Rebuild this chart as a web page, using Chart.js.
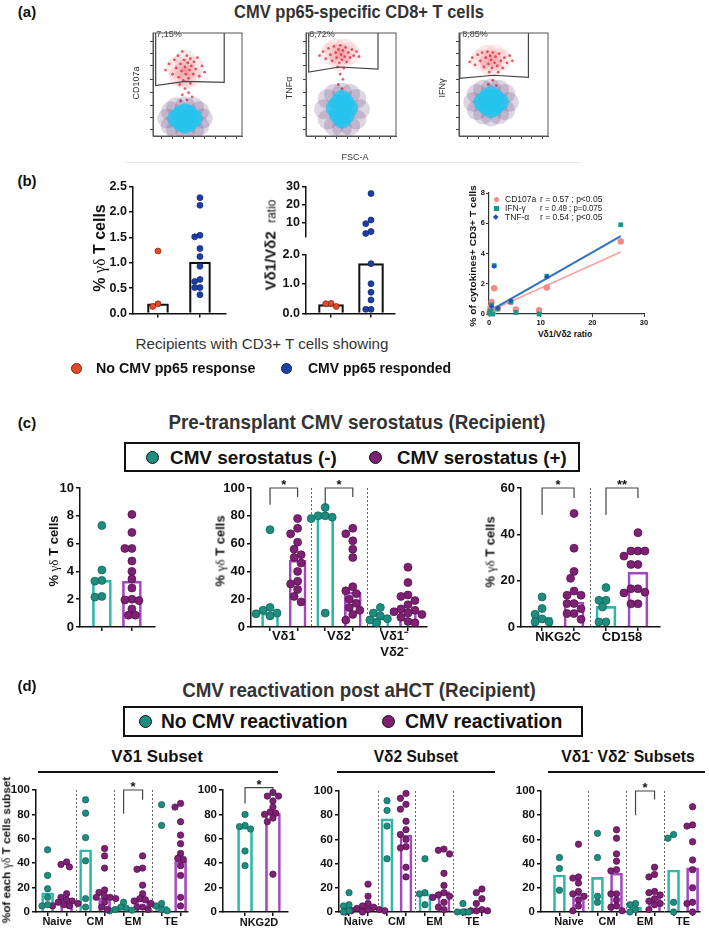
<!DOCTYPE html>
<html>
<head>
<meta charset="utf-8">
<script src="https://cdn.jsdelivr.net/npm/chart.js@4.4.0/dist/chart.umd.min.js"></script>
<style>
  body { margin: 0; background: #fff; width: 709px; height: 928px; position: relative; overflow: hidden;
         font-family: "Liberation Sans", Arial, sans-serif; color: #111; }
  canvas { position: absolute; }
  .t { position: absolute; white-space: nowrap; line-height: 1; }
  .box { position: absolute; border: 2px solid #111; box-sizing: border-box; }
  .dot { position: absolute; border-radius: 50%; box-sizing: border-box; }
  .rule { position: absolute; background: #111; }
</style>
</head>
<body>
<script>
// ---------- (a) flow plots, plot units 0-100 ----------
const flowMarkers = ["CD107a", "TNFα", "IFNγ"];
const gatePct = ["7,15%", "8,72%", "8,85%"];
const gateCD107a = [[3,100],[3,49],[36,53],[80,52],[80,100]];
const gateTNF = [[3,100],[3,62],[37,67],[80,65],[80,100]];
const gateIFN = [[1,100],[1,56],[39,59],[78,57],[78,100]];
const redCD107a = [[14,64],[18,70],[22,60],[24,74],[26,66],[28,78],[29,57],[31,70],[32,63],[33,82],[34,54],[35,74],[36,67],[37,60],[38,78],[39,71],[40,56],[41,64],[42,75],[43,68],[45,60],[46,72],[48,65],[50,76],[52,58],[55,68],[58,62],[30,50],[42,51],[36,46],[40,42],[33,40],[44,38],[38,35],[31,34]];
const redTNF = [[15,78],[19,82],[22,75],[25,85],[27,79],[29,73],[31,87],[33,81],[34,76],[36,84],[37,71],[38,88],[39,79],[40,74],[41,83],[43,77],[44,86],[45,72],[47,81],[49,76],[51,84],[53,78],[56,82],[59,77],[35,67],[42,66],[38,60],[41,55],[36,50],[40,46]];
const redIFN = [[12,72],[15,76],[18,69],[21,79],[24,73],[26,81],[28,67],[30,76],[32,82],[33,70],[35,78],[36,74],[37,66],[38,81],[40,71],[41,77],[43,68],[45,80],[47,73],[49,66],[51,76],[54,71],[57,78],[60,73],[34,62],[44,62],[38,54],[33,50],[42,49]];
const hazeCD107a = [[36,64],[27,67],[45,67],[36,73],[36,56],[30,58],[42,58]];
const hazeTNF = [[38,79],[28,80],[48,80],[33,84],[43,84],[38,73]];
const hazeIFN = [[36,73],[25,74],[47,74],[31,78],[41,78],[36,68]];
const coreCD107a = [[36,17],[26,17],[46,17],[31,13],[41,13],[31,21],[41,21],[36,11],[36,23]];
const haloCD107a = [[16,17],[56,17],[20,10],[52,10],[20,24],[52,24],[36,29],[36,5],[26,28],[46,28],[26,6],[46,6]];
const coreTNF = [[40,26],[32,27],[48,27],[36,20],[44,20],[36,32],[44,32],[40,16],[40,36]];
const haloTNF = [[20,26],[60,26],[24,16],[56,16],[24,36],[56,36],[40,42],[40,8],[31,41],[49,41],[31,10],[49,10]];
const coreIFN = [[36,33],[26,33],[46,33],[31,29],[41,29],[31,37],[41,37],[36,26],[36,40]];
const haloIFN = [[16,33],[56,33],[20,25],[52,25],[20,41],[52,41],[36,46],[36,19],[27,45],[45,45],[27,21],[45,21]];

// ---------- (b) ----------
const bGroups = ["No CMV pp65 response", "CMV pp65 responded"];
const gdNoResp = [1.23, 0.19, 0.14];
const gdResp = [2.28, 2.13, 1.54, 1.51, 1.28, 1.12, 0.93, 0.67, 0.63, 0.51, 0.51, 0.37];
const gdMedian = [0.19, 1.01];
const ratioNoResp = [0.24, 0.34, 0.33];
const ratioResp = [26.1, 11.4, 9.4, 5.0, 4.0, 1.69, 1.01, 0.72, 0.46, 0.14, 0.14];
const ratioMedian = [0.3, 1.69];
const cd107aX = [25.5, 11.2, 9.7, 5.2, 4.2, 1.0, 1.7, 0.5, 0.3, 0.2, 0.7, 0.1, 0.4, 0.3];
const cd107aY = [4.8, 1.75, 0.25, 0.3, 0.8, 1.7, 0.35, 0.8, 0.4, 0.2, 0.1, 0.05, 0.5, 0.15];
const ifngX = [25.5, 11.2, 9.7, 5.2, 4.2, 1.0, 1.7, 0.5, 0.3, 0.2, 0.7, 0.1];
const ifngY = [5.9, 2.5, 0.0, 0.1, 0.8, 3.2, 0.35, 0.6, 0.2, 0.05, 0.0, 0.1];
const tnfX = [4.2, 1.7, 11.2, 1.0, 0.5];
const tnfY = [0.9, 0.4, 2.45, 3.15, 0.5];
const tnfFitX = [0.5, 25.5], tnfFitY = [0.27, 5.15];
const cd107aFitX = [0.5, 25.5], cd107aFitY = [0.25, 4.1];
const corrStats = [["CD107a", "r = 0.57 ; p<0.05"], ["IFN-γ", "r = 0.49 ; p=0.075"], ["TNF-α", "r = 0.54 ; p<0.05"]];

// ---------- (c) ----------
const serGroups = ["CMV serostatus (-)", "CMV serostatus (+)"];
const serNegGd = [7.3, 4.1, 3.35, 3.3, 2.2, 2.15];
const serPosGd = [8.1, 6.8, 5.65, 5.65, 4.75, 4.0, 3.45, 2.8, 2.0, 1.95, 1.9, 1.3, 0.85, 0.85];
const serGdMedian = [3.37, 3.3];
const subsets = ["Vδ1", "Vδ2", "Vδ1⁻\nVδ2⁻"];
const negSubset = [[70, 14, 12, 10, 9.5, 8], [86, 80, 80, 79, 78, 10], [14, 10, 8, 6, 5, 3]];
const posSubset = [[78, 71, 67, 61, 56, 52, 50, 46, 40, 33, 31, 27, 22, 18],
                   [71, 67, 62, 56, 50, 29, 26, 24, 20, 17, 14, 12, 9, 5],
                   [43, 32, 23, 22, 19, 16, 13, 12, 11, 10, 9, 7, 4, 3]];
const negSubsetMedian = [10, 80, 6.5];
const posSubsetMedian = [48, 25, 12.5];
const receptors = ["NKG2C", "CD158"];
const negReceptor = [[13, 8, 5.5, 3.5, 2.2, 2.2], [17, 11.5, 11.5, 8.6, 2.2, 2.2]];
const posReceptor = [[49, 34, 24, 21, 15.5, 13.7, 13.7, 10.1, 10.1, 7.9, 5.8, 5.8, 3.3],
                     [40.7, 32.8, 32.8, 32.8, 30.6, 27, 27, 16.5, 16.5, 15, 14.7, 10, 10]];
const negReceptorMedian = [4.3, 8.9];
const posReceptorMedian = [10.8, 23.7];

// ---------- (d) ----------
const reactGroups = ["No CMV reactivation", "CMV reactivation"];
const memory = ["Naive", "CM", "EM", "TE"];
const vd1NoReact = [[51, 30, 19, 12, 6, 5], [92, 81, 61, 42, 11, 4], [8, 4, 3, 2, 1.5, 1], [88, 71, 7, 5, 2, 1]];
const vd1React = [[41, 39, 37, 15, 12, 10, 9, 8, 7, 6, 5, 5], [52, 46, 36, 18, 16, 13, 12, 12, 11, 8, 4, 2],
                  [46, 36, 35, 22, 15, 11, 10, 9, 7, 4, 4, 2], [89, 86, 74, 63, 56, 48, 44, 43, 38, 30, 12, 5]];
const vd1NoMedian = [15.8, 51, 2.7, 4.9];
const vd1Median = [11, 11.7, 10, 41.7];
const nkg2dNo = [80, 71, 70, 68, 50, 38];
const nkg2dYes = [98, 95, 95, 91, 86, 82, 81, 80, 77, 74, 31];
const nkg2dMedian = [69.5, 81];
const vd2NoReact = [[16, 6, 5, 1, 0], [92, 84, 71, 44], [44, 16, 15, 6], [7, 0, 0, 0]];
const vd2React = [[23, 13, 7, 5, 4, 3, 2, 2, 1, 1, 0, 0], [98, 94, 89, 85, 75, 68, 64, 60, 54, 53, 37, 29],
                  [52, 51, 48, 32, 22, 16, 14, 13, 12, 8, 4, 2], [19, 16, 11, 7, 2, 1, 1, 1, 0, 0, 0]];
const vd2NoMedian = [3.9, 77, 14.9, 0.3];
const vd2Median = [1.7, 63.6, 16.8, 0.8];
const dnNoReact = [[45, 36, 18], [65, 45, 13, 8], [7, 6, 2, 0], [64, 61, 8, 0]];
const dnReact = [[56, 29, 28, 24, 17, 15, 13, 10, 5, 1], [68, 61, 48, 42, 35, 34, 15, 15, 10, 5, 4, 1],
                 [37, 31, 29, 17, 16, 14, 11, 9, 7, 6, 2], [87, 72, 71, 58, 43, 35, 20, 8, 7, 0]];
const dnNoMedian = [30.6, 28.6, 3.9, 34.7];
const dnMedian = [14.9, 32, 11.8, 36.6];

// ---------- colours ----------
const TEAL = "#1e8c7e", TEAL_EDGE = "#0f5e55", TEAL_BAR = "#2fb8aa";
const PURP = "#7e2073", PURP_EDGE = "#4d0f47", PURP_BAR = "#a548bf";
const RED = "#e04b2c", RED_EDGE = "#8a2010", BLUE = "#1d3fa5", BLUE_EDGE = "#0c2270";

Chart.defaults.font.family = '"Liberation Sans", Arial, sans-serif';
Chart.defaults.color = "#111";
Chart.defaults.animation = false;
Chart.defaults.plugins.legend.display = false;
Chart.defaults.plugins.tooltip.enabled = false;

// separators, brackets, group labels, frame
const extras = {
  id: "extras",
  beforeDatasetsDraw(chart, args, o) {
    if (!o.seps) return;
    const { ctx, chartArea: a, scales } = chart;
    ctx.save();
    ctx.strokeStyle = "#666"; ctx.lineWidth = 1; ctx.setLineDash([2, 2]);
    o.seps.forEach(v => {
      const px = Math.round(scales.x.getPixelForValue(v)) + 0.5;
      ctx.beginPath(); ctx.moveTo(px, a.top); ctx.lineTo(px, a.bottom); ctx.stroke();
    });
    ctx.restore();
  },
  afterDraw(chart, args, o) {
    const { ctx, chartArea: a, scales: { x, y } } = chart;
    ctx.save();
    if (o.frame) {
      ctx.strokeStyle = "#555"; ctx.lineWidth = 1;
      ctx.strokeRect(a.left, a.top, a.right - a.left, a.bottom - a.top);
    }
    (o.brackets || []).forEach(b => {
      const x1 = x.getPixelForValue(b.x1), x2 = x.getPixelForValue(b.x2);
      const yt = y.getPixelForValue(b.top);
      ctx.strokeStyle = "#444"; ctx.lineWidth = 1.2;
      ctx.beginPath();
      ctx.moveTo(x1, y.getPixelForValue(b.y1)); ctx.lineTo(x1, yt);
      ctx.lineTo(x2, yt); ctx.lineTo(x2, y.getPixelForValue(b.y2));
      ctx.stroke();
      ctx.fillStyle = "#111"; ctx.font = 'bold 13px "Liberation Sans"';
      ctx.textAlign = "center"; ctx.textBaseline = "alphabetic";
      ctx.fillText(b.text, (x1 + x2) / 2, yt + 1);
    });
    (o.labels || []).forEach(l => {
      ctx.fillStyle = "#111"; ctx.font = o.labelFont;
      ctx.textAlign = "center"; ctx.textBaseline = "middle";
      const px = x.getPixelForValue(l.x);
      l.text.split("\n").forEach((s, i) => ctx.fillText(s, px, a.bottom + o.labelDy + i * (o.labelLh || 0)));
    });
    ctx.restore();
  }
};
Chart.register(extras);

// canvas placed so that the plot area sits on the given page box
function makeChart(area, m, cfg) {
  const [x0, y0, x1, y1] = area;
  const w = x1 - x0 + m.l + m.r, h = y1 - y0 + m.t + m.b;
  const c = document.createElement("canvas");
  c.width = w; c.height = h;
  Object.assign(c.style, { left: (x0 - m.l) + "px", top: (y0 - m.t) + "px", width: w + "px", height: h + "px" });
  document.body.appendChild(c);
  const o = cfg.options;
  o.responsive = false;
  o.maintainAspectRatio = false;
  const xHidden = o.scales.x.display === false;
  o.layout = { padding: { left: 0, top: m.t, right: m.r, bottom: xHidden ? m.b : 0 } };
  o.scales.y.afterFit = s => { s.width = m.l; };
  o.scales.x.afterFit = s => { s.height = m.b; };
  return new Chart(c, cfg);
}

function yAxis(min, max, step, size, fmt) {
  return {
    min, max,
    ticks: { stepSize: step, font: { size, weight: "bold" }, color: "#111", padding: 2, callback: fmt || (v => v) },
    grid: { drawOnChartArea: false, tickLength: 4, color: "#111", lineWidth: 1.5 },
    border: { color: "#111", width: 1.5 }
  };
}
function xAxis(min, max, ticksAt, display = true) {
  return {
    type: "linear", min, max, offset: false, display,
    afterBuildTicks: s => { s.ticks = ticksAt.map(v => ({ value: v })); },
    ticks: { callback: () => "", padding: 0 },
    grid: { drawOnChartArea: false, tickLength: 4, color: "#111", lineWidth: 1.5, offset: false },
    border: { color: "#111", width: 1.5 }
  };
}

// beeswarm-style horizontal spread of the dots around the bar centre
function swarm(vals, cx, pxX, pxY, d, y0) {
  const placed = [];
  return vals.slice().sort((a, b) => b - a).map(v => {
    const py = (v - y0) * pxY;
    let off = 0;
    for (let k = 0; k < 40; k++) {
      off = (k % 2 ? -1 : 1) * Math.ceil(k / 2) * d * 0.5;
      if (placed.every(p => Math.hypot(p[0] - off, p[1] - py) >= d)) break;
    }
    placed.push([off, py]);
    return { x: cx + off / pxX, y: v };
  });
}

function interleave(a, b) {
  const out = [];
  a.forEach((v, i) => { out.push(v, b[i]); });
  return out;
}

// bars (medians) + dots for alternating groups
function dotBar(area, m, s) {
  const pxX = (area[2] - area[0]) / (s.xr[1] - s.xr[0]);
  const pxY = (area[3] - area[1]) / (s.yr[1] - s.yr[0]);
  const datasets = s.groups.map((vals, i) => ({
    type: "scatter", order: 0, clip: false,
    data: swarm(vals, s.pos[i], pxX, pxY, s.r * 1.75, s.yr[0]),
    pointRadius: s.r, pointBackgroundColor: s.dot[i % 2], pointBorderColor: s.edge[i % 2], pointBorderWidth: 0.7
  }));
  if (s.medians) {
    datasets.push({
      type: "bar", order: 1,
      data: s.pos.map((p, i) => ({ x: p, y: s.medians[i] })),
      borderColor: s.pos.map((p, i) => s.barCol[i % 2]),
      backgroundColor: "rgba(255,255,255,0)", borderWidth: s.bw || 2, barThickness: s.barW, borderSkipped: "start"
    });
  }
  const y = yAxis(s.yr[0], s.yr[1], s.yr[2], s.tickSize, s.fmt);
  if (s.yTicks) y.afterBuildTicks = sc => { sc.ticks = s.yTicks.map(v => ({ value: v })); };
  return makeChart(area, m, {
    type: "bar",
    data: { datasets },
    options: {
      scales: { x: xAxis(s.xr[0], s.xr[1], s.pos, s.xShow !== false), y },
      plugins: { extras: { seps: s.seps, brackets: s.brackets, labels: s.labels, labelFont: s.labelFont, labelDy: s.labelDy, labelLh: s.labelLh } }
    }
  });
}

// ---------- HTML text helpers ----------
function T(html, cx, cy, css = {}, opt = {}) {
  const d = document.createElement("div");
  d.className = "t";
  d.innerHTML = html;
  Object.assign(d.style, { left: cx + "px", top: cy + "px" }, css);
  document.body.appendChild(d);
  let tr = opt.left ? "translate(0,-50%)" : "translate(-50%,-50%)";
  if (opt.left) d.style.transformOrigin = "left center";
  if (opt.rot) tr += " rotate(-90deg)";
  if (opt.w) tr += ` scaleX(${opt.w / d.offsetWidth})`;
  d.style.transform = tr;
  return d;
}
function dot(cx, cy, r, fill, edge) {
  const d = document.createElement("div");
  d.className = "dot";
  Object.assign(d.style, { left: (cx - r) + "px", top: (cy - r) + "px", width: 2 * r + "px", height: 2 * r + "px",
    background: fill, border: `1.5px solid ${edge}` });
  document.body.appendChild(d);
}
function rule(x, y, w, h, col) {
  const d = document.createElement("div");
  d.className = "rule";
  Object.assign(d.style, { left: x + "px", top: y + "px", width: w + "px", height: h + "px", background: col || "#111" });
  document.body.appendChild(d);
}
function box(x, y, w, h) {
  const d = document.createElement("div");
  d.className = "box";
  Object.assign(d.style, { left: x + "px", top: y + "px", width: w + "px", height: h + "px" });
  document.body.appendChild(d);
}
const B = "bold";
const serif = s => `<span style="font-family:'Liberation Serif';font-weight:normal">${s}</span>`;

// ================= (a) =================
T("(a)", 27, 11, { fontWeight: B, fontSize: "15px" });
T("CMV pp65-specific CD8+ T cells", 359, 11, { fontWeight: B, fontSize: "19px", color: "#333" }, { w: 250 });

const pts = arr => arr.map(([x, y]) => ({ x, y }));
function flowChart(area, gate, red, haze, halo, core) {
  const tickAxis = at => ({
    min: 0, max: 100,
    afterBuildTicks: s => { s.ticks = at.map(v => ({ value: v })); },
    ticks: { display: false },
    grid: { drawOnChartArea: false, tickLength: 3, color: "#444", lineWidth: 1 },
    border: { color: "#555", width: 1 }
  });
  return makeChart(area, { l: 5, t: 2, r: 2, b: 5 }, {
    type: "scatter",
    data: {
      datasets: [
        { data: pts(gate), showLine: true, borderColor: "#444", borderWidth: 1.2, pointRadius: 0, order: 0, clip: false },
        { data: pts(core), pointRadius: 9, pointBackgroundColor: "rgba(38,196,238,0.85)", pointBorderWidth: 0, order: 1 },
        { data: pts(halo), pointRadius: 10, pointBackgroundColor: "rgba(85,45,110,0.2)", pointBorderWidth: 0, order: 2 },
        { data: pts(red), pointRadius: 1.4, pointBackgroundColor: "rgba(215,40,55,0.75)", pointBorderWidth: 0, order: 3 },
        { data: pts(haze), pointRadius: 11, pointBackgroundColor: "rgba(235,90,100,0.13)", pointBorderWidth: 0, order: 4 }
      ]
    },
    options: {
      scales: { x: tickAxis([10, 22, 34, 46, 58, 70, 82, 94]), y: tickAxis([6, 18, 30, 42, 55, 68, 80, 92]) },
      plugins: { extras: { frame: true } }
    }
  });
}
const flowAreas = [[147, 24, 251, 142], [300, 24, 405, 142], [453, 24, 557, 142]];
flowChart(flowAreas[0], gateCD107a, redCD107a, hazeCD107a, haloCD107a, coreCD107a);
flowChart(flowAreas[1], gateTNF, redTNF, hazeTNF, haloTNF, coreTNF);
flowChart(flowAreas[2], gateIFN, redIFN, hazeIFN, haloIFN, coreIFN);
flowAreas.forEach((a, i) => {
  T(gatePct[i], a[0] + 22, 34, { fontSize: "9px", color: "#444" });
  T(flowMarkers[i], a[0] - 11, i === 0 ? 83 : 88, { fontSize: "9px", color: "#333" }, { rot: true });
});
T("FSC-A", 355, 157, { fontSize: "9px", color: "#333" });
rule(125, 162, 455, 1, "#e6e6e6");

// ================= (b) =================
T("(b)", 27, 180, { fontWeight: B, fontSize: "15px" });
const redBlue = { dot: [RED, BLUE], edge: [RED_EDGE, BLUE_EDGE], barCol: ["#111", "#111"], bw: 1.5 };
const fmt1 = v => v.toFixed(1);

dotBar([133, 185, 226, 315], { l: 35, t: 8, r: 6, b: 8 }, {
  ...redBlue, xr: [0.405, 2.62], yr: [0, 2.5, 0.5], tickSize: 12.5, fmt: fmt1,
  pos: [1, 2], groups: [gdNoResp, gdResp], medians: gdMedian, r: 3, barW: 21
});
T(`% ${serif("γδ")} T cells`, 100, 248, { fontWeight: B, fontSize: "16px" }, { rot: true });

// broken axis: upper segment 2-30, lower 0-2
dotBar([306, 185, 395, 245], { l: 35, t: 8, r: 6, b: 8 }, {
  ...redBlue, xr: [0.375, 2.6], yr: [2, 30, 10], yTicks: [10, 20, 30], tickSize: 12.5, xShow: false,
  pos: [1, 2], groups: [ratioNoResp.filter(v => v > 2), ratioResp.filter(v => v > 2)], r: 3
});
dotBar([306, 253, 395, 315], { l: 35, t: 8, r: 6, b: 8 }, {
  ...redBlue, xr: [0.375, 2.6], yr: [0, 2, 0.5], tickSize: 12.5, fmt: fmt1,
  pos: [1, 2], groups: [ratioNoResp.filter(v => v <= 2), ratioResp.filter(v => v <= 2)], medians: ratioMedian, r: 3, barW: 25
});
T(`<b>Vδ1/Vδ2</b>&nbsp;&nbsp;<span style="font-weight:normal;font-size:12px">ratio</span>`, 270, 245, { fontSize: "15px" }, { rot: true });

// correlation scatter
const xy = (xs, ys) => xs.map((v, i) => ({ x: v, y: ys[i] }));
makeChart([489, 193, 644, 314], { l: 20, t: 8, r: 10, b: 14 }, {
  type: "scatter",
  data: {
    datasets: [
      { data: xy(cd107aX, cd107aY), pointRadius: 3.2, pointBackgroundColor: "#f28b84", pointBorderWidth: 0, order: 2, clip: false },
      { data: xy(ifngX, ifngY), pointStyle: "rect", pointRadius: 3.4, pointBackgroundColor: "#17988c", pointBorderWidth: 0, order: 1, clip: false },
      { data: xy(tnfX, tnfY), pointStyle: "rectRot", pointRadius: 2.6, pointBackgroundColor: "#1f4fbf", pointBorderWidth: 0, order: 0, clip: false },
      { data: xy(tnfFitX, tnfFitY), showLine: true, pointRadius: 0, borderColor: "#2f72c4", borderWidth: 2, order: 5 },
      { data: xy(cd107aFitX, cd107aFitY), showLine: true, pointRadius: 0, borderColor: "#f5a3a0", borderWidth: 1.5, order: 6 }
    ]
  },
  options: {
    scales: {
      x: { min: 0, max: 30, ticks: { stepSize: 10, font: { size: 7.5, weight: "bold" }, padding: 1 },
           grid: { drawOnChartArea: false, tickLength: 3, color: "#333" }, border: { color: "#333", width: 1.2 } },
      y: { min: 0, max: 8, ticks: { stepSize: 2, font: { size: 7.5, weight: "bold" }, padding: 1 },
           grid: { drawOnChartArea: false, tickLength: 3, color: "#333" }, border: { color: "#333", width: 1.2 } }
    }
  }
});
T("% of cytokines+ CD3+ T cells", 473, 256, { fontWeight: B, fontSize: "8.5px" }, { rot: true, w: 142 });
T("Vδ1/Vδ2 ratio", 565, 334, { fontWeight: B, fontSize: "8.5px" });
const legendMarks = [
  { background: "#f28b84", borderRadius: "50%", width: "5px", height: "5px" },
  { background: "#17988c", width: "5px", height: "5px" },
  { background: "#1f4fbf", width: "3.5px", height: "3.5px", transform: "rotate(45deg)" }
];
corrStats.forEach(([name, stat], i) => {
  const yy = 199 + i * 9;
  const mk = document.createElement("div");
  Object.assign(mk.style, { position: "absolute", left: "494px", top: (yy - 2.5) + "px" }, legendMarks[i]);
  document.body.appendChild(mk);
  T(name, 505, yy, { fontSize: "8.5px", color: "#222" }, { left: true });
  T(stat, 540, yy, { fontSize: "8.5px", color: "#222" }, { left: true, w: 62 });
});

T("Recipients with CD3+ T cells showing", 262, 343, { fontSize: "15px", color: "#333" }, { w: 253 });
dot(76, 368, 5.5, RED, RED_EDGE);
T(bGroups[0], 96, 368, { fontWeight: B, fontSize: "14px" }, { left: true, w: 159 });
dot(286, 368, 5.5, BLUE, BLUE_EDGE);
T(bGroups[1], 308, 368, { fontWeight: B, fontSize: "14px" }, { left: true, w: 143 });

// ================= (c) =================
T("(c)", 27, 422, { fontWeight: B, fontSize: "15px" });
T("Pre-transplant CMV serostatus (Recipient)", 357, 421, { fontWeight: B, fontSize: "21px", color: "#333" }, { w: 377 });
box(124, 442, 456, 30);
dot(152, 457, 6.5, TEAL, "#111");
T(serGroups[0], 170, 457, { fontWeight: B, fontSize: "19px" }, { left: true, w: 167 });
dot(375, 457, 6.5, PURP, "#111");
T(serGroups[1], 397, 457, { fontWeight: B, fontSize: "19px" }, { left: true, w: 170 });

const tealPurp = { dot: [TEAL, PURP], edge: [TEAL_EDGE, PURP_EDGE], barCol: [TEAL_BAR, PURP_BAR] };
const cTitle = `% ${serif("γδ")} T cells`;

dotBar([80, 488, 155, 627], { l: 30, t: 16, r: 6, b: 12 }, {
  ...tealPurp, xr: [0.27, 2.77], yr: [0, 10, 2], tickSize: 13,
  pos: [1, 2], groups: [serNegGd, serPosGd], medians: serGdMedian, r: 4, barW: 19
});
T(cTitle, 53, 551, { fontWeight: B, fontSize: "13px" }, { rot: true });

dotBar([251, 488, 427, 627], { l: 35, t: 16, r: 6, b: 34 }, {
  ...tealPurp, xr: [0.31, 6.69], yr: [0, 100, 20], tickSize: 13,
  pos: [1, 2, 3, 4, 5, 6], groups: interleave(negSubset, posSubset),
  medians: interleave(negSubsetMedian, posSubsetMedian), r: 4, barW: 17, seps: [2.5, 4.5],
  brackets: [{ x1: 1, x2: 2, y1: 88, y2: 93.5, top: 100, text: "*" }, { x1: 3, x2: 4, y1: 88, y2: 93.5, top: 100, text: "*" }],
  labels: subsets.map((s, i) => ({ x: 1.5 + 2 * i, text: s })), labelFont: 'bold 13px "Liberation Sans"', labelDy: 9, labelLh: 16
});
T(cTitle, 220, 551, { fontWeight: B, fontSize: "13px" }, { rot: true });

dotBar([521, 488, 660, 627], { l: 30, t: 16, r: 6, b: 18 }, {
  ...tealPurp, xr: [0.34, 4.69], yr: [0, 60, 20], tickSize: 13,
  pos: [1, 2, 3, 4], groups: interleave(negReceptor, posReceptor),
  medians: interleave(negReceptorMedian, posReceptorMedian), r: 4, barW: 20, seps: [2.5],
  brackets: [{ x1: 1, x2: 2, y1: 48.3, y2: 55.7, top: 60, text: "*" }, { x1: 3, x2: 4, y1: 48.3, y2: 55.7, top: 60, text: "**" }],
  labels: receptors.map((s, i) => ({ x: 1.5 + 2 * i, text: s })), labelFont: 'bold 13px "Liberation Sans"', labelDy: 10
});
T(cTitle, 490, 552, { fontWeight: B, fontSize: "13px" }, { rot: true });

// ================= (d) =================
T("(d)", 27, 685, { fontWeight: B, fontSize: "15px" });
T("CMV reactivation post aHCT (Recipient)", 359, 690, { fontWeight: B, fontSize: "20px", color: "#333" }, { w: 354 });
box(123, 706, 460, 31);
dot(145, 721, 6.5, TEAL, "#111");
T(reactGroups[0], 161, 721, { fontWeight: B, fontSize: "20px" }, { left: true, w: 186 });
dot(388, 721, 6.5, PURP, "#111");
T(reactGroups[1], 405, 721, { fontWeight: B, fontSize: "20px" }, { left: true, w: 157 });

T("V&delta;1 Subset", 157, 756, { fontWeight: B, fontSize: "17px" }, { w: 92 });
rule(38, 771, 240, 2);
T("V&delta;2 Subset", 416, 756, { fontWeight: B, fontSize: "17px" }, { w: 85 });
rule(337, 771, 158, 2);
T("V&delta;1<sup style='font-size:10px'>-</sup> V&delta;2<sup style='font-size:10px'>-</sup> Subsets", 628, 756, { fontWeight: B, fontSize: "17px" }, { w: 133 });
rule(548, 771, 157, 2);

const memLabels = memory.map((s, i) => ({ x: 1.5 + 2 * i, text: s }));
const dOpts = { ...tealPurp, yr: [0, 100, 20], tickSize: 11.5, r: 3.2, barW: 12, seps: [2.5, 4.5, 6.5],
  pos: [1, 2, 3, 4, 5, 6, 7, 8], labels: memLabels, labelFont: 'bold 11px "Liberation Sans"', labelDy: 10 };
const dm = { l: 30, t: 16, r: 6, b: 18 };

dotBar([36, 790, 188, 912], dm, {
  ...dOpts, xr: [0.39, 8.39], groups: interleave(vd1NoReact, vd1React), medians: interleave(vd1NoMedian, vd1Median),
  brackets: [{ x1: 5, x2: 6, y1: 80.5, y2: 92, top: 100, text: "*" }]
});
T(`%of each ${serif("γδ")} T cells subset`, 7, 850, { fontWeight: B, fontSize: "11.5px" }, { rot: true, w: 146 });

dotBar([223, 790, 288, 912], dm, {
  ...tealPurp, yr: [0, 100, 20], tickSize: 11.5, r: 3.2, barW: 15,
  xr: [0.21, 2.54], pos: [1, 2], groups: [nkg2dNo, nkg2dYes], medians: nkg2dMedian,
  brackets: [{ x1: 1, x2: 2, y1: 89, y2: 96, top: 102, text: "*" }],
  labels: [{ x: 1.5, text: "NKG2D" }], labelFont: 'bold 11px "Liberation Sans"', labelDy: 11
});

dotBar([339, 791, 488, 912], dm, {
  ...dOpts, xr: [0.47, 8.32], groups: interleave(vd2NoReact, vd2React), medians: interleave(vd2NoMedian, vd2Median)
});

dotBar([541, 791, 700, 912], dm, {
  ...dOpts, xr: [0.03, 8.39], groups: interleave(dnNoReact, dnReact), medians: interleave(dnNoMedian, dnMedian),
  brackets: [{ x1: 5, x2: 6, y1: 80, y2: 93, top: 100, text: "*" }]
});
</script>
</body>
</html>
